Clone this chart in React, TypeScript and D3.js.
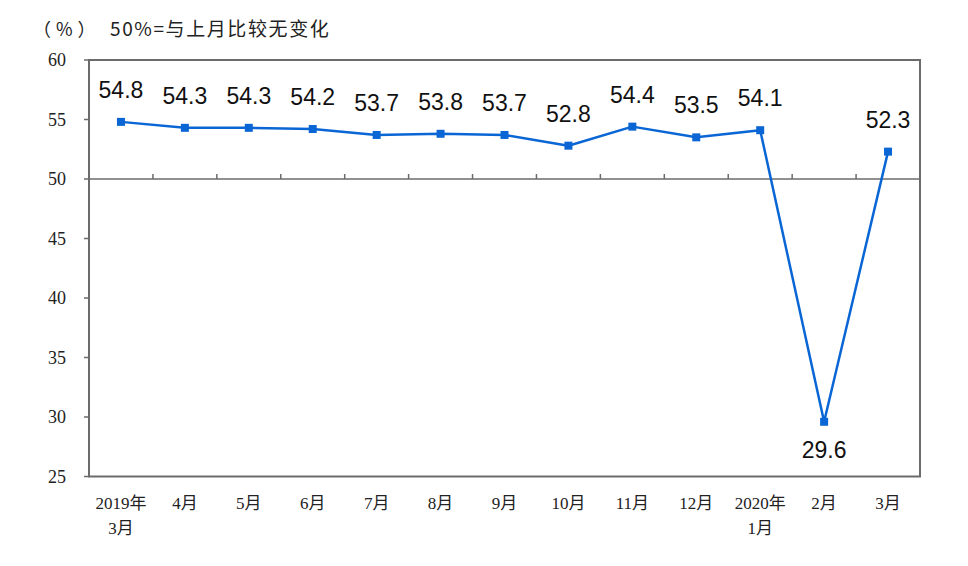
import React from "react";
import * as d3 from "d3";

const categories = ["2019年\n3月", "4月", "5月", "6月", "7月", "8月", "9月", "10月", "11月", "12月", "2020年\n1月", "2月", "3月"];
const values = [54.8, 54.3, 54.3, 54.2, 53.7, 53.8, 53.7, 52.8, 54.4, 53.5, 54.1, 29.6, 52.3];
const yTicks = [25, 30, 35, 40, 45, 50, 55, 60];
const unitLabel = "（%）";
const noteLabel = "50%=与上月比较无变化";

const W = 968, H = 566;
const L = 89, R = 920, T = 60, B = 476.5;
const BLUE = "#0a66d4";
const AXIS = "#6b6b6b";

export default function App() {
  const x = d3.scaleBand<string>().domain(categories).range([L, R]).paddingInner(0).paddingOuter(0);
  const y = d3.scaleLinear().domain([25, 60]).range([B, T]);
  const cx = (i: number) => (x(categories[i]) as number) + x.bandwidth() / 2;
  const line = d3.line<number>().x((_, i) => cx(i)).y((d) => y(d)).curve(d3.curveLinear);
  const y50 = y(50);
  const serif = "'Liberation Serif', 'Noto Sans CJK SC', serif";
  const sans = "'Liberation Sans', Arial, sans-serif";
  return (
    <div style={{ position: "absolute", left: 0, top: 0 }}>
      <svg width={W} height={H} style={{ display: "block", background: "#fff" }}>
        <text x={33} y={36} fontSize={18} letterSpacing={5} fontFamily="'Noto Sans CJK SC', sans-serif" fill="#222">{unitLabel}</text>
        <text x={110} y={36} fontSize={19} letterSpacing={1.6} fontFamily="'Noto Sans CJK SC', sans-serif" fill="#222">{noteLabel}</text>
        {/* plot frame */}
        <rect x={L} y={T} width={R - L} height={B - T} fill="none" stroke={AXIS} strokeWidth={2} />
        {/* y ticks */}
        {yTicks.map((t) => (
          <g key={t}>
            <line x1={L - 5} x2={L} y1={y(t)} y2={y(t)} stroke={AXIS} strokeWidth={1.5} />
            <text x={66} y={y(t)} dy="0.35em" textAnchor="end" fontSize={18} fontFamily={serif} fill="#222">{t}</text>
          </g>
        ))}
        {/* category axis at 50 */}
        <line x1={L} x2={R} y1={y50} y2={y50} stroke={AXIS} strokeWidth={1.5} />
        {categories.slice(1).map((c) => (
          <line key={c} x1={x(c)} x2={x(c)} y1={y50} y2={y50 - 5} stroke={AXIS} strokeWidth={1.5} />
        ))}
        {/* x labels */}
        {categories.map((c, i) => (
          <text key={c} textAnchor="middle" fontSize={17} fontFamily={serif} fill="#222">
            {c.split("\n").map((s, j) => (
              <tspan key={j} x={cx(i)} y={509 + j * 25}>{s}</tspan>
            ))}
          </text>
        ))}
        {/* line */}
        <path d={line(values) || ""} fill="none" stroke={BLUE} strokeWidth={2.5} strokeLinejoin="round" />
        {values.map((v, i) => (
          <rect key={i} x={cx(i) - 4} y={y(v) - 4} width={8} height={8} fill={BLUE} />
        ))}
        {values.map((v, i) => (
          <text key={"l" + i} x={cx(i)} y={v < 40 ? y(v) + 36 : y(v) - 24} textAnchor="middle" fontSize={23} fontFamily={sans} fill="#111">
            {v.toFixed(1)}
          </text>
        ))}
      </svg>
    </div>
  );
}
